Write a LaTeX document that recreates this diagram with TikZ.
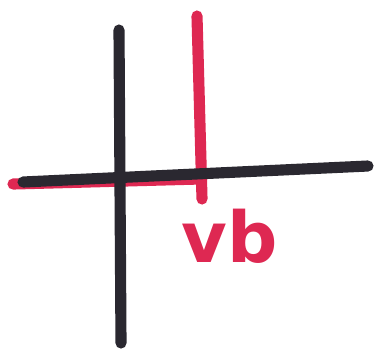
\documentclass[tikz,border=0pt]{standalone}
\usepackage{fontspec}
\setmainfont{DejaVu Sans}
\usepackage{tikz}

\definecolor{marker}{RGB}{222,40,82}
\definecolor{ink}{RGB}{42,40,48}

\begin{document}
\begin{tikzpicture}[x=0.03cm, y=-0.03cm, line width=9.5pt, line cap=round]
    \useasboundingbox (0,0) rectangle (375,351);
    % red path first, black on top
    \draw[marker] (13,184) -- (200,179);
    \draw[marker] (197,16) -- (202,199);
    \draw[ink] (119,30) -- (121,343);
    \draw[ink] (23,182) -- (368,166);
    \node[marker, font=\fontsize{60}{62}\selectfont\bfseries] (vb) at (230,236) {vb};
\end{tikzpicture}
\end{document}
